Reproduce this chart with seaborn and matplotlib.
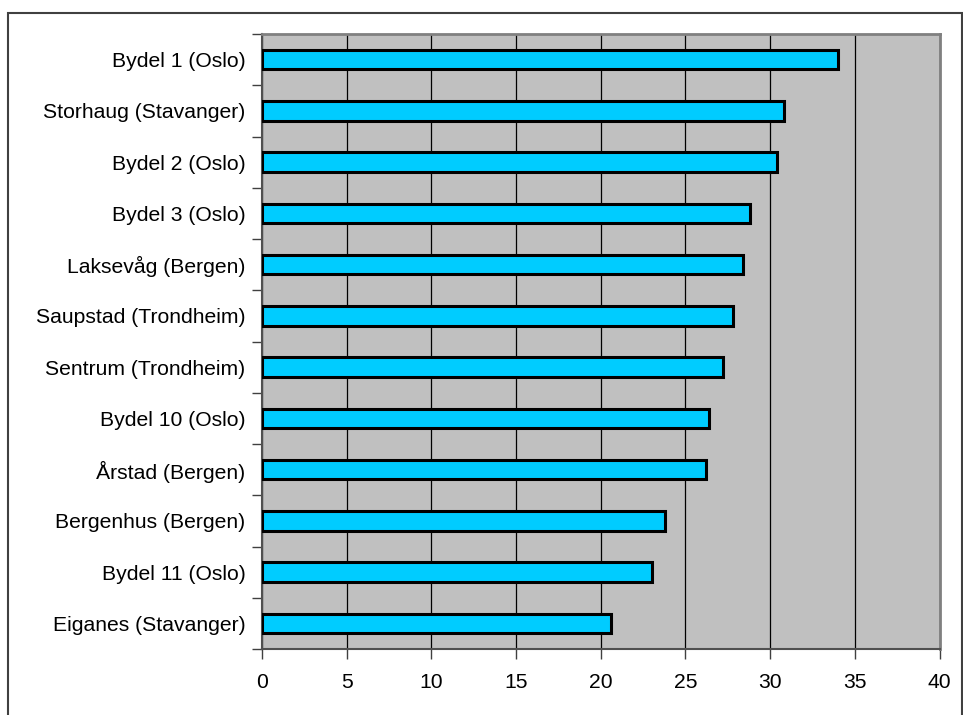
import matplotlib
matplotlib.use("Agg")
import matplotlib.pyplot as plt
import seaborn as sns
import numpy as np
import pandas as pd
from matplotlib.patches import Rectangle

categories = ["Bydel 1 (Oslo)", "Storhaug (Stavanger)", "Bydel 2 (Oslo)", "Bydel 3 (Oslo)",
              "Laksevåg (Bergen)", "Saupstad (Trondheim)", "Sentrum (Trondheim)",
              "Bydel 10 (Oslo)", "Årstad (Bergen)", "Bergenhus (Bergen)",
              "Bydel 11 (Oslo)", "Eiganes (Stavanger)"]
values = [34.0, 30.8, 30.4, 28.8, 28.4, 27.8, 27.2, 26.4, 26.2, 23.8, 23.0, 20.6]
x_ticks = [0, 5, 10, 15, 20, 25, 30, 35, 40]

df = pd.DataFrame({"omr": categories, "val": values})

sns.set_theme(style="white")
plt.rcParams['font.family'] = ['Liberation Sans', 'DejaVu Sans']

fig = plt.figure(figsize=(9.63, 7.15), dpi=100)
W, H = 963, 715
left, right, top, bottom = 262, 939.5, 34, 649
ax = fig.add_axes([left / W, 1 - bottom / H, (right - left) / W, (bottom - top) / H])

ax.set_facecolor("#C0C0C0")
sns.barplot(data=df, x="val", y="omr", orient="h", color="#00CCFF", saturation=1,
            width=0.38, edgecolor="black", linewidth=2.2, ax=ax, zorder=3)

ax.set_xlim(0, 40)
ax.set_ylim(len(categories) - 0.5, -0.5)
ax.set_xticks(x_ticks)
ax.set_xticklabels([str(t) for t in x_ticks])
ax.xaxis.grid(True, color="black", linewidth=0.9, zorder=1)
ax.set_axisbelow(True)
ax.set_xlabel("")
ax.set_ylabel("")

ax.tick_params(axis="y", which="major", length=0, pad=12, labelsize=15.2, colors="black")
ax.set_yticks(np.arange(-0.5, len(categories) + 0.5, 1), minor=True)
ax.tick_params(axis="y", which="minor", length=7, width=1, color="#404040", left=True)
ax.tick_params(axis="x", which="major", length=7, width=1, color="#404040", pad=10,
               labelsize=15.2, bottom=True, colors="black")
ax.tick_params(axis="x", colors="#404040", labelcolor="black")

for s in ["top", "right"]:
    ax.spines[s].set_color("#808080")
    ax.spines[s].set_linewidth(2)
for s in ["bottom", "left"]:
    ax.spines[s].set_color("#505050")
    ax.spines[s].set_linewidth(1.5)
    ax.spines[s].set_visible(True)
ax.spines["top"].set_visible(True)
ax.spines["right"].set_visible(True)

# outer frame (chart area border)
frame = Rectangle((8 / W, -0.05), (962 - 8) / W, 1 - 13 / H + 0.05, transform=fig.transFigure,
                  fill=False, edgecolor="#404040", linewidth=1.5, clip_on=False)
fig.patches.append(frame)

fig.savefig("out.png", dpi=100, facecolor="white")
